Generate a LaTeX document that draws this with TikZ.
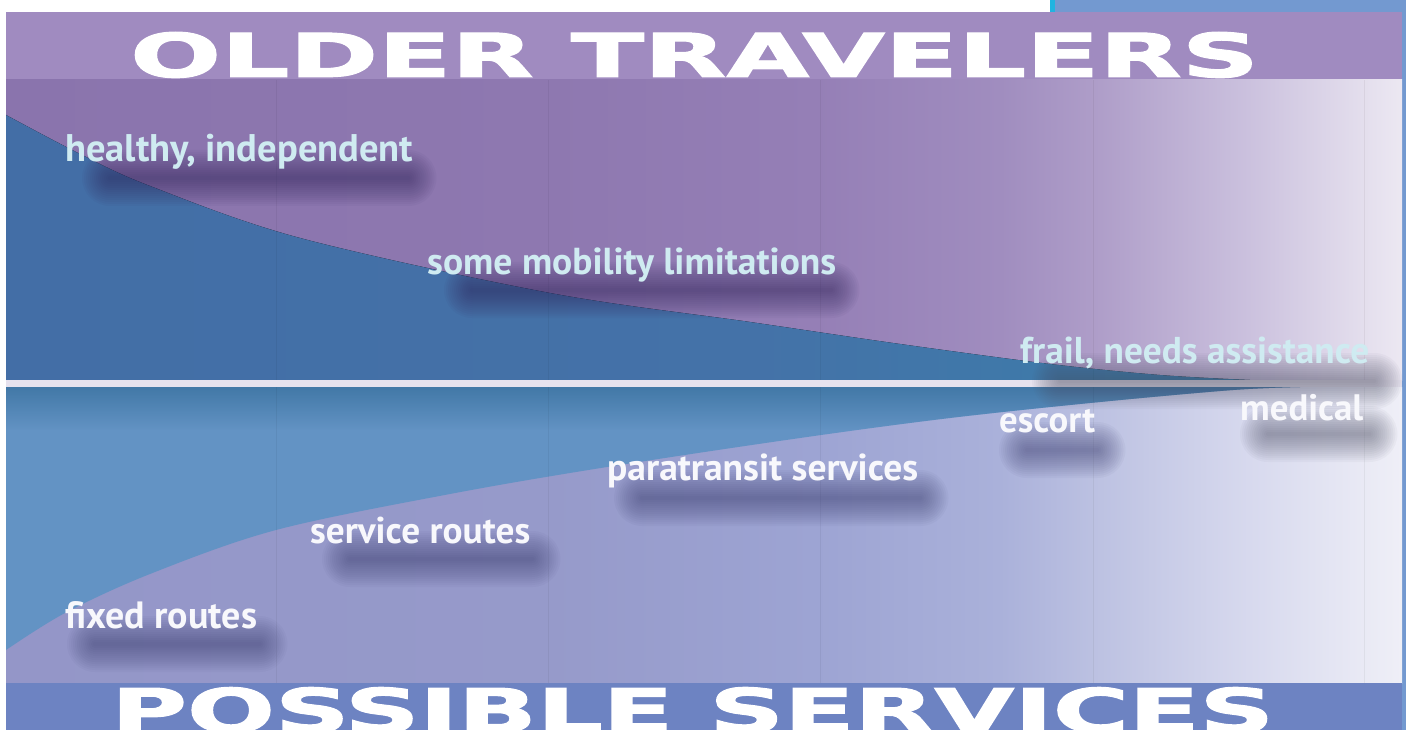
\documentclass[tikz,border=0pt]{standalone}
\usepackage{graphicx}
\usepackage{fontspec}
\setmainfont{DejaVu Sans}
\newfontfamily\headfont{DejaVu Sans Bold}[FakeBold=1.6]
\newfontfamily\labelfont{PT Sans}
\usetikzlibrary{calc,fadings}

\pgfdeclarelayer{back}
\pgfdeclarelayer{mid}
\pgfsetlayers{back,mid,main}

\definecolor{bandtop}{HTML}{A08BC0}
\definecolor{bandbot}{HTML}{6D83C2}
\definecolor{edgeblue}{HTML}{7399D0}
\definecolor{edgecyan}{HTML}{20B4E0}
\definecolor{lowerblue}{HTML}{6393C4}
\definecolor{lowerdeep}{HTML}{3A72A0}
\definecolor{divider}{HTML}{E6E2EE}
\definecolor{textcyan}{HTML}{CFEBF1}
\definecolor{textwhite}{HTML}{F8F8FC}
\definecolor{shadeup}{HTML}{2E2258}
\definecolor{shadelow}{HTML}{3A3C6E}
\definecolor{shadegray}{HTML}{505268}
% upper wash
\definecolor{up0}{HTML}{8A74AD}
\definecolor{up1}{HTML}{8E78B0}
\definecolor{up2}{HTML}{957FB6}
\definecolor{up3}{HTML}{A08DBF}
\definecolor{up4}{HTML}{AF9EC9}
\definecolor{up5}{HTML}{CBC1DE}
\definecolor{up6}{HTML}{ECE8F2}
% lower wash
\definecolor{lo0}{HTML}{9496C8}
\definecolor{lo1}{HTML}{969ACA}
\definecolor{lo2}{HTML}{9DA4D3}
\definecolor{lo3}{HTML}{AAB1DA}
\definecolor{lo4}{HTML}{BDC2E2}
\definecolor{lo5}{HTML}{D7D9EE}
\definecolor{lo6}{HTML}{EFEFF7}
% blue wedge
\definecolor{ub0}{HTML}{436EA6}
\definecolor{ub1}{HTML}{4472A8}
\definecolor{ub2}{HTML}{3B7EAA}

\pgfdeclarehorizontalshading{upperwash}{100bp}{color(0bp)=(up0); color(25bp)=(up0); color(44.5bp)=(up1); color(54bp)=(up2); color(60.6bp)=(up3); color(64.2bp)=(up4); color(69.5bp)=(up5); color(75bp)=(up6); color(100bp)=(up6)}
\pgfdeclarehorizontalshading{lowerwash}{100bp}{color(0bp)=(lo0); color(25bp)=(lo0); color(44.5bp)=(lo1); color(54bp)=(lo2); color(60.6bp)=(lo3); color(64.2bp)=(lo4); color(69.5bp)=(lo5); color(75bp)=(lo6); color(100bp)=(lo6)}
\pgfdeclarehorizontalshading{bluewash}{100bp}{color(0bp)=(ub0); color(25bp)=(ub0); color(55bp)=(ub1); color(75bp)=(ub2); color(100bp)=(ub2)}
\tikzfading[name=deepfade, top color=transparent!20, bottom color=transparent!100]

\tikzset{
  lab/.style={inner sep=0pt, anchor=base west, font=\labelfont\bfseries},
  uplab/.style={lab, text=textcyan},
  lowlab/.style={lab, text=textwhite},
  title/.style={inner sep=0pt, anchor=base west, text=white, font=\headfont},
  colline/.style={black, opacity=0.05, line width=1pt}
}

% soft blurred patch under a label: node, offset from base west, offset from base east, colour
\newcommand\softshade[4]{%
  \foreach \e in {2,4,...,28}{%
    \fill[#4, opacity=0.045, rounded corners=\e pt]
      ($(#1.base west)+(#2)+(-\e,-\e)$) rectangle ($(#1.base east)+(#3)+(\e,\e)$);
  }%
}

\begin{document}
\begin{tikzpicture}[x=1pt,y=-1pt]
\useasboundingbox (0,0) rectangle (1406,730);
\clip (0,0) rectangle (1406,730);

\begin{pgfonlayer}{back}
  \fill[white] (0,0) rectangle (1406,730);
  % frame strips
  \fill[edgeblue] (1052,0) rectangle (1406,12);
  \fill[edgecyan] (1050,0) rectangle (1055,12);
  \fill[edgeblue] (1402,0) rectangle (1406,730);
  % header band
  \fill[bandtop] (6,12) rectangle (1402,80);
  % upper panel with the shrinking blue wedge
  \fill[shading=upperwash] (6,80) rectangle (1402,380);
  \fill[shading=bluewash] plot[smooth,tension=0.55] coordinates
    {(6,115) (80,154) (150,186) (300,238) (550,293) (750,322) (900,344) (1050,364) (1160,375) (1250,380)}
    -- (6,380) -- cycle;
  % lower panel with the growing blue wedge
  \fill[shading=lowerwash] (6,387) rectangle (1402,683);
  \begin{scope}
    \clip plot[smooth,tension=0.55] coordinates
      {(6,650) (65,613) (150,574) (276,530) (450,494) (607,467) (800,438) (950,418) (1100,402) (1233,390) (1300,387)}
      -- (6,387) -- cycle;
    \fill[lowerblue] (6,387) rectangle (1402,683);
    \fill[lowerdeep, path fading=deepfade] (6,387) rectangle (1402,430);
  \end{scope}
  % faint column rules
  \foreach \cx in {276,548,820,1093,1364}{
    \draw[colline] (\cx,80) -- (\cx,683);
  }
  % divider
  \fill[divider] (6,380) rectangle (1402,387);
  % footer band
  \fill[bandbot] (6,683) rectangle (1402,730);
\end{pgfonlayer}

% headings
\node[title] (older) at (130,77) {\resizebox{1128pt}{45pt}{OLDER TRAVELERS}};
\node[title, anchor=north west] (possible) at (111,687) {\resizebox{1163pt}{45pt}{POSSIBLE SERVICES}};

% traveller groups
\node[uplab] (healthy) at (65,162) {\resizebox{348pt}{!}{healthy, independent}};
\node[uplab] (mobility) at (427,274) {\resizebox{409pt}{!}{some mobility limitations}};
\node[uplab] (frail) at (1020,363) {\resizebox{349pt}{!}{frail, needs assistance}};

% services
\node[lowlab] (escort) at (999,432) {\resizebox{96pt}{!}{escort}};
\node[lowlab] (medical) at (1240,420) {\resizebox{123pt}{!}{medical}};
\node[lowlab] (para) at (607,480) {\resizebox{311pt}{!}{paratransit services}};
\node[lowlab] (service) at (310,543) {\resizebox{220pt}{!}{service routes}};
\node[lowlab] (fixed) at (65,628) {\resizebox{192pt}{!}{fixed routes}};

\begin{pgfonlayer}{mid}
  \softshade{healthy}{45,16}{-5,16}{shadeup}
  \softshade{mobility}{45,16}{-5,16}{shadeup}
  \softshade{frail}{40,18}{5,18}{shadegray}
  \softshade{escort}{28,18}{2,18}{shadelow}
  \softshade{medical}{28,14}{6,14}{shadegray}
  \softshade{para}{35,18}{2,18}{shadelow}
  \softshade{service}{40,16}{2,16}{shadelow}
  \softshade{fixed}{30,16}{2,16}{shadelow}
\end{pgfonlayer}
\end{tikzpicture}
\end{document}
